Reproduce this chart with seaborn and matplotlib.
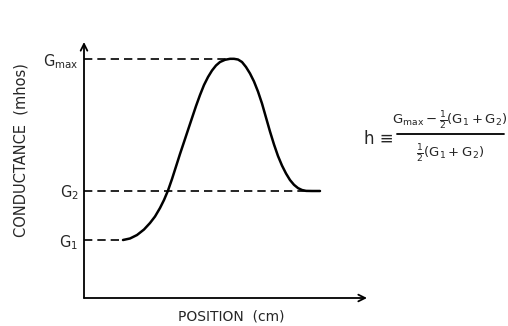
import matplotlib
matplotlib.use("Agg")
import matplotlib.pyplot as plt
from matplotlib.lines import Line2D
import seaborn as sns
import pandas as pd

# ---- data ----
position = [1.378, 1.625, 1.873, 2.120, 2.332, 2.509, 2.686, 2.827, 2.968,
            3.110, 3.251, 3.392, 3.534, 3.675, 3.816, 3.958, 4.099, 4.240,
            4.382, 4.523, 4.664, 4.806, 4.982, 5.159, 5.300,
            5.442, 5.583, 5.724, 5.866, 6.007, 6.148, 6.290, 6.431, 6.572,
            6.714, 6.855, 6.996, 7.138, 7.279, 7.420, 7.562, 7.703, 7.845,
            8.057, 8.339]
conductance = [1.000, 1.026, 1.086, 1.181, 1.293, 1.405, 1.552, 1.690, 1.853,
               2.052, 2.267, 2.483, 2.690, 2.897, 3.103, 3.310, 3.500, 3.672,
               3.810, 3.922, 4.009, 4.069, 4.107, 4.124, 4.124,
               4.112, 4.069, 3.983, 3.871, 3.733, 3.560, 3.353, 3.112, 2.871,
               2.647, 2.448, 2.284, 2.147, 2.034, 1.952, 1.895, 1.862, 1.847,
               1.845, 1.845]
level_names = ["G$_1$", "G$_2$", "G$_{max}$"]
level_values = [1.000, 1.853, 4.121]
level_ends = [1.378, 8.339, 5.159]   # where each dashed guide meets the curve

df = pd.DataFrame({"position": position, "conductance": conductance})

sns.set_theme(style="white")
plt.rcParams["font.family"] = ["DejaVu Sans"]
plt.rcParams["mathtext.fontset"] = "dejavusans"
plt.rcParams["mathtext.default"] = "regular"

W, H = 508, 326
fig = plt.figure(figsize=(W / 100, H / 100), dpi=100)
ax = fig.add_axes([84 / W, (H - 298) / H, (367 - 84) / W, (298 - 42) / H])

sns.lineplot(data=df, x="position", y="conductance", sort=False,
             color="black", linewidth=1.8, ax=ax)
ax.lines[-1].set_solid_joinstyle("round")

for v, e in zip(level_values, level_ends):
    ax.plot([0, e], [v, v], color="black", linewidth=1.2,
            linestyle=(0, (5, 3)))

ax.set_xlim(0, 10)
ax.set_ylim(0, 4.414)
for s in ax.spines.values():
    s.set_visible(False)

ax.set_xticks([])
ax.set_yticks(level_values)
ax.set_yticklabels(level_names, fontsize=10.5)
ax.tick_params(axis="y", length=2, width=1, color="black", pad=2)
ax.set_xlabel("")
ax.set_ylabel("")

# axes with open arrowheads
arrow = dict(arrowstyle="->", color="black", linewidth=1.3,
             mutation_scale=12, shrinkA=0, shrinkB=0)
ax.annotate("", xy=(1, 0), xytext=(0, 0), xycoords="axes fraction",
            textcoords="axes fraction", arrowprops=arrow, annotation_clip=False)
ax.annotate("", xy=(0, 1), xytext=(0, 0), xycoords="axes fraction",
            textcoords="axes fraction", arrowprops=arrow, annotation_clip=False)

fig.text(21 / W, 1 - 150 / H, "CONDUCTANCE  (mhos)", rotation=90,
         ha="center", va="center", fontsize=10.5)
fig.text(231 / W, 1 - 316 / H, "POSITION  (cm)", ha="center", va="center",
         fontsize=10)

# formula h = (Gmax - 1/2(G1+G2)) / (1/2(G1+G2))
fig.text(394 / W, 1 - 139 / H, "h \u2261", ha="right", va="center",
         fontsize=12)
fig.text(450 / W, 1 - 121 / H, r"$G_{max}-\frac{1}{2}(G_1+G_2)$",
         ha="center", va="center", fontsize=9.5)
fig.add_artist(Line2D([397 / W, 504 / W], [1 - 134 / H, 1 - 134 / H],
                      color="black", linewidth=1.3))
fig.text(450 / W, 1 - 154 / H, r"$\frac{1}{2}(G_1+G_2)$",
         ha="center", va="center", fontsize=9.5)

fig.savefig("out.png", dpi=100, facecolor="white")
